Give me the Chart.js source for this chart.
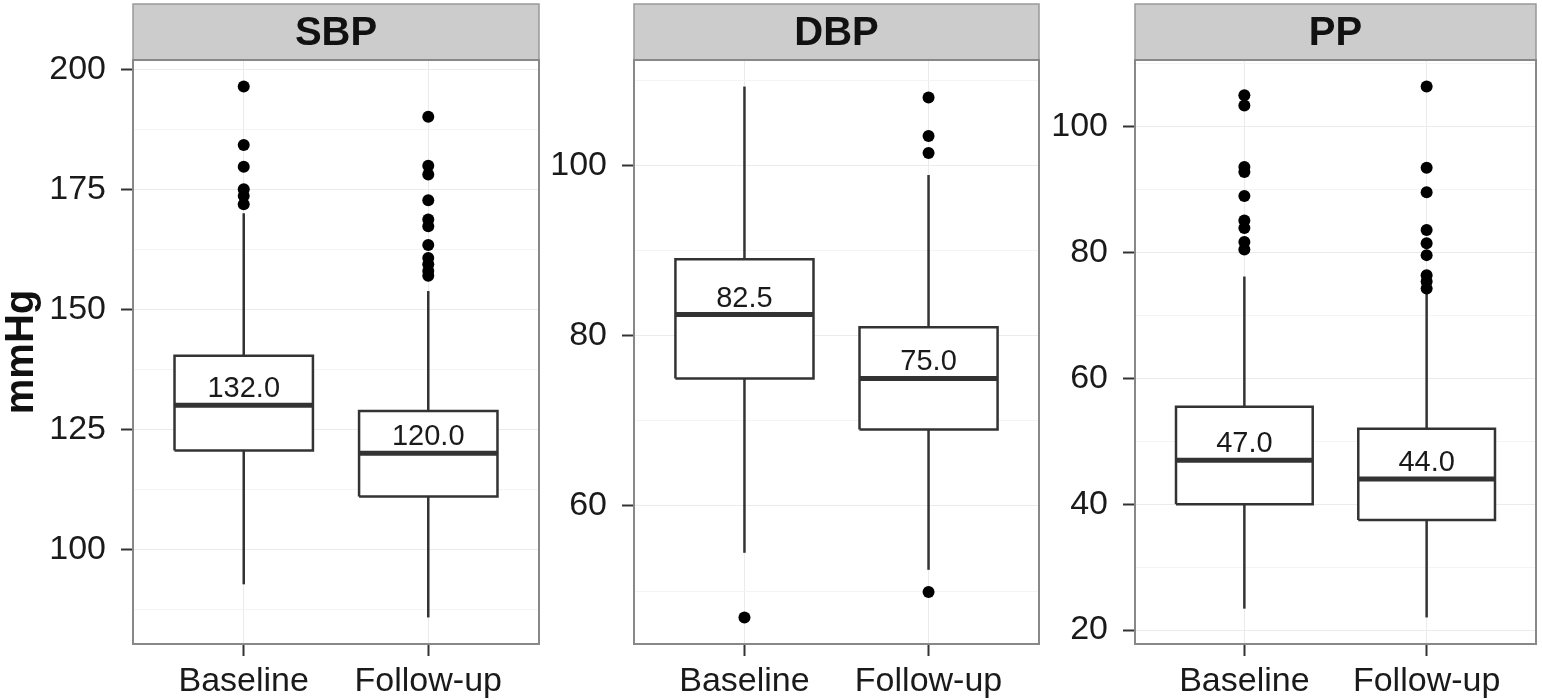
<!DOCTYPE html>
<html>
<head>
<meta charset="utf-8">
<title>SBP, DBP and PP at baseline and follow-up</title>
<script src="https://cdn.jsdelivr.net/npm/chart.js@4.4.1/dist/chart.umd.min.js"></script>
<style>
  html, body { margin: 0; padding: 0; background: #fff; }
  #wrap { position: relative; width: 1542px; height: 700px; overflow: hidden; }
  canvas { position: absolute; top: 0; }
</style>
</head>
<body>
<div id="wrap">
  <canvas id="sbp" width="545" height="700" style="left:0px"></canvas>
  <canvas id="dbp" width="500" height="700" style="left:545px"></canvas>
  <canvas id="pp" width="497" height="700" style="left:1045px"></canvas>
</div>
<script>
const groups = ['Baseline', 'Follow-up'];

// SBP
const sbpLow = [92.7, 85.8];
const sbpQ1 = [120.6, 111.0];
const sbpMedian = [130, 120];
const sbpQ3 = [140.3, 128.8];
const sbpHigh = [170.0, 153.8];
const sbpOutBaseline = [196.4, 184.2, 179.7, 175.0, 173.6, 171.9];
const sbpOutFollowup = [190.1, 179.9, 178.1, 172.7, 168.7, 167.3, 163.4, 160.7, 159.4, 158.0, 157.0];
const sbpLabels = ['132.0', '120.0'];
const sbpTicks = [100, 125, 150, 175, 200];

// DBP
const dbpLow = [54.5, 52.5];
const dbpQ1 = [75, 69];
const dbpMedian = [82.5, 75];
const dbpQ3 = [89, 81];
const dbpHigh = [109.3, 98.9];
const dbpOutBaseline = [46.9];
const dbpOutFollowup = [108.0, 103.5, 101.5, 49.9];
const dbpLabels = ['82.5', '75.0'];
const dbpTicks = [60, 80, 100];

// PP
const ppLow = [23.4, 22.0];
const ppQ1 = [40, 37.5];
const ppMedian = [47, 44];
const ppQ3 = [55.5, 52];
const ppHigh = [76.2, 73.5];
const ppOutBaseline = [105.0, 103.4, 93.6, 92.8, 89.0, 85.1, 83.9, 81.7, 80.5];
const ppOutFollowup = [106.4, 93.5, 89.6, 83.6, 81.5, 79.6, 76.4, 75.4, 74.3];
const ppLabels = ['47.0', '44.0'];
const ppTicks = [20, 40, 60, 80, 100];

const FONT = "'Liberation Sans', Arial, Helvetica, sans-serif";
const LINE = '#333333';
const HALF_BOX = 0.375;

// strip on top + full panel border, like facet panels
const panelFrame = {
  id: 'panelFrame',
  beforeDraw(chart) {
    const { ctx, chartArea: a } = chart;
    ctx.save();
    ctx.fillStyle = '#cccccc';
    ctx.fillRect(a.left, 4, a.right - a.left, a.top - 4);
    ctx.strokeStyle = '#999999';
    ctx.lineWidth = 1.5;
    ctx.strokeRect(a.left, 4, a.right - a.left, a.top - 4);
    ctx.restore();
  },
  afterDatasetsDraw(chart) {
    const { ctx, chartArea: a, scales } = chart;
    const labels = chart.options.plugins.panelFrame.labels;
    const medians = chart.options.plugins.panelFrame.medians;
    ctx.save();
    ctx.font = '29px ' + FONT;
    ctx.fillStyle = '#1a1a1a';
    ctx.textAlign = 'center';
    ctx.textBaseline = 'alphabetic';
    labels.forEach((t, i) => {
      const x = scales.x.getPixelForValue(i + 1);
      const y = scales.y.getPixelForValue(medians[i]);
      ctx.fillText(t, x, y - 8);
    });
    ctx.strokeStyle = '#888888';
    ctx.lineWidth = 2;
    ctx.strokeRect(a.left, a.top, a.right - a.left, a.bottom - a.top);
    ctx.restore();
  }
};

function makePanel(id, title, s) {
  const all = [].concat(s.low, s.high, s.outBase, s.outFollow);
  const lo = Math.min(...all), hi = Math.max(...all);
  const pad = (hi - lo) * 0.05;
  const step = s.ticks[1] - s.ticks[0];
  const minors = [];
  s.ticks.forEach(t => { minors.push(t - step / 2, t + step / 2); });
  const yTicks = Array.from(new Set(s.ticks.concat(minors)))
    .filter(v => v >= lo - pad && v <= hi + pad)
    .sort((a, b) => a - b);

  const datasets = [];
  // lower order is drawn on top
  const lineDs = (data, width, order) => ({
    type: 'scatter', data, showLine: true, borderColor: LINE, borderWidth: width,
    pointRadius: 0, borderJoinStyle: 'miter', borderCapStyle: 'butt', fill: false, order
  });
  groups.forEach((g, i) => {
    const x = i + 1;
    const box = lineDs([
      { x: x - HALF_BOX, y: s.q1[i] }, { x: x + HALF_BOX, y: s.q1[i] },
      { x: x + HALF_BOX, y: s.q3[i] }, { x: x - HALF_BOX, y: s.q3[i] },
      { x: x - HALF_BOX, y: s.q1[i] }
    ], 2.5, 3);
    box.fill = 'shape';
    box.backgroundColor = '#ffffff';
    datasets.push(box);
    datasets.push(lineDs([{ x, y: s.low[i] }, { x, y: s.q1[i] }], 2.5, 2));
    datasets.push(lineDs([{ x, y: s.q3[i] }, { x, y: s.high[i] }], 2.5, 2));
    datasets.push(lineDs([{ x: x - HALF_BOX, y: s.median[i] }, { x: x + HALF_BOX, y: s.median[i] }], 5, 1));
    const outs = i === 0 ? s.outBase : s.outFollow;
    datasets.push({
      type: 'scatter', data: outs.map(v => ({ x, y: v })), order: 0,
      pointRadius: 6, pointBackgroundColor: '#000', pointBorderWidth: 0, showLine: false
    });
  });

  return new Chart(document.getElementById(id), {
    type: 'scatter',
    data: { datasets },
    plugins: [panelFrame],
    options: {
      responsive: false,
      animation: false,
      events: [],
      layout: { padding: { top: 4, right: s.padRight, bottom: 0, left: 0 } },
      plugins: {
        legend: { display: false },
        tooltip: { enabled: false },
        title: {
          display: true, text: title, fullSize: false, color: '#111',
          font: { family: FONT, size: 40, weight: 'bold', lineHeight: 1.2 },
          padding: { top: 6, bottom: 2 }
        },
        panelFrame: { labels: s.labels, medians: s.median }
      },
      scales: {
        x: {
          type: 'linear', min: 0.4, max: 2.6,
          afterBuildTicks: sc => { sc.ticks = groups.map((g, i) => ({ value: i + 1 })); },
          afterFit: sc => { sc.height = 56; },
          ticks: {
            callback: (v, i) => groups[i], maxRotation: 0, autoSkip: false,
            color: '#1a1a1a', padding: 5, font: { family: FONT, size: 34 }
          },
          grid: { color: '#ebebeb', lineWidth: 1, tickLength: 12, tickColor: LINE, tickWidth: 2 },
          border: { display: false }
        },
        y: {
          type: 'linear', min: lo - pad, max: hi + pad,
          afterBuildTicks: sc => { sc.ticks = yTicks.map(v => ({ value: v })); },
          afterFit: sc => { sc.width = s.axisWidth; },
          ticks: {
            callback: v => (s.ticks.includes(v) ? String(v) : ''),
            autoSkip: false, color: '#1a1a1a', padding: 15, font: { family: FONT, size: 34 }
          },
          grid: {
            color: c => (s.ticks.includes(c.tick.value) ? '#ebebeb' : '#f4f4f4'),
            tickColor: c => (s.ticks.includes(c.tick.value) ? LINE : 'rgba(0,0,0,0)'),
            lineWidth: 1, tickLength: 12, tickWidth: 2
          },
          border: { display: false },
          title: {
            display: s.yTitle, text: 'mmHg', color: '#111',
            font: { family: FONT, size: 40, weight: 'bold', lineHeight: 1 },
            padding: { top: 2, bottom: 0 }
          }
        }
      }
    }
  });
}

makePanel('sbp', 'SBP', {
  low: sbpLow, q1: sbpQ1, median: sbpMedian, q3: sbpQ3, high: sbpHigh,
  outBase: sbpOutBaseline, outFollow: sbpOutFollowup, labels: sbpLabels, ticks: sbpTicks,
  axisWidth: 133, padRight: 5, yTitle: true
});
makePanel('dbp', 'DBP', {
  low: dbpLow, q1: dbpQ1, median: dbpMedian, q3: dbpQ3, high: dbpHigh,
  outBase: dbpOutBaseline, outFollow: dbpOutFollowup, labels: dbpLabels, ticks: dbpTicks,
  axisWidth: 89, padRight: 4, yTitle: false
});
makePanel('pp', 'PP', {
  low: ppLow, q1: ppQ1, median: ppMedian, q3: ppQ3, high: ppHigh,
  outBase: ppOutBaseline, outFollow: ppOutFollowup, labels: ppLabels, ticks: ppTicks,
  axisWidth: 90, padRight: 1, yTitle: false
});
</script>
</body>
</html>
